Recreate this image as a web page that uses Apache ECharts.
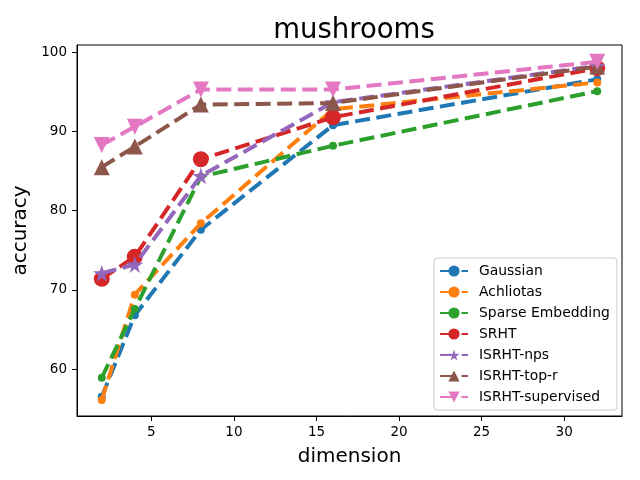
<!DOCTYPE html>
<html>
<head>
<meta charset="utf-8">
<script src="https://cdn.jsdelivr.net/npm/echarts@6/dist/echarts.min.js"></script>
<style>
  html, body { margin: 0; padding: 0; background: #fff; }
  #chart { width: 640px; height: 480px; }
</style>
</head>
<body>
<div id="chart"></div>
<script>
// dimensions on the x axis
const dims = [2, 4, 8, 16, 32]
const xTicks = [5, 10, 15, 20, 25, 30]
const yTicks = [60, 70, 80, 90, 100]

// accuracy per method
const gaussian = [56.5, 66.8, 77.6, 90.8, 96.6]
const achliotas = [56.1, 69.4, 78.4, 92.8, 96.2]
const sparseEmb = [58.9, 67.6, 84.3, 88.2, 95.1]
const srht = [71.4, 74.2, 86.5, 91.8, 98.0]
const isrhtNps = [72.1, 73.2, 84.4, 93.7, 98.3]
const isrhtTopR = [85.5, 88.1, 93.4, 93.6, 98.2]
const isrhtSup = [88.3, 90.6, 95.3, 95.3, 98.8]

const names = ['Gaussian', 'Achliotas', 'Sparse Embedding', 'SRHT', 'ISRHT-nps', 'ISRHT-top-r', 'ISRHT-supervised']
const values = [gaussian, achliotas, sparseEmb, srht, isrhtNps, isrhtTopR, isrhtSup]
const colors = ['#1f77b4', '#ff7f0e', '#2ca02c', '#d62728', '#9467bd', '#8c564b', '#e377c2']

const starPath = 'path://M50,0 L61,35 L98,35 L68,57 L79,91 L50,70 L21,91 L32,57 L2,35 L39,35 Z'
// marker per series
const marks = [
  { symbol: 'circle', size: 8, rotate: 0 },
  { symbol: 'circle', size: 8, rotate: 0 },
  { symbol: 'circle', size: 8, rotate: 0 },
  { symbol: 'circle', size: 16, rotate: 0 },
  { symbol: starPath, size: 17, rotate: 0 },
  { symbol: 'triangle', size: 16, rotate: 0 },
  { symbol: 'triangle', size: 16, rotate: 180 }
]

const font = 'DejaVu Sans'

let series = names.map((name, i) => ({
  name: name,
  type: 'line',
  data: dims.map((d, j) => [d, values[i][j]]),
  symbol: marks[i].symbol,
  symbolSize: marks[i].size,
  symbolRotate: marks[i].rotate,
  showAllSymbol: true,
  z: 2 + i,
  itemStyle: { color: colors[i], borderWidth: 0 },
  lineStyle: { width: 4, type: [15, 6.5], color: colors[i] },
  emphasis: { disabled: true }
}))

const chart = echarts.init(document.getElementById('chart'))
chart.setOption({
  animation: false,
  backgroundColor: '#fff',
  title: {
    text: 'mushrooms',
    left: 349,
    top: 12,
    textAlign: 'center',
    textStyle: { fontFamily: font, fontSize: 27.5, fontWeight: 'normal', color: '#000' }
  },
  grid: {
    left: 77,
    right: 18,
    top: 45,
    bottom: 64,
    show: true,
    borderColor: '#000',
    borderWidth: 1,
    backgroundColor: 'transparent'
  },
  legend: {
    orient: 'vertical',
    left: 434,
    top: 258,
    itemWidth: 28,
    itemHeight: 14,
    itemGap: 7,
    padding: [6, 7, 6, 5],
    backgroundColor: 'rgba(255,255,255,0.8)',
    borderColor: '#ccc',
    borderWidth: 1,
    borderRadius: 3,
    textStyle: { fontFamily: font, fontSize: 13.9, color: '#000', padding: [0, 0, 0, 6] },
    data: names
  },
  xAxis: {
    type: 'value',
    min: 0.5,
    max: 33.5,
    name: 'dimension',
    nameLocation: 'middle',
    nameGap: 31,
    nameTextStyle: { fontFamily: font, fontSize: 20, color: '#000' },
    splitLine: { show: false },
    axisLine: { show: true, onZero: false, lineStyle: { color: '#000', width: 1 } },
    axisTick: { show: true, length: 5, customValues: xTicks, lineStyle: { color: '#000' } },
    axisLabel: { customValues: xTicks, fontFamily: font, fontSize: 13.5, color: '#000', margin: 9 }
  },
  yAxis: {
    type: 'value',
    min: 54.07,
    max: 100.93,
    name: 'accuracy',
    nameLocation: 'middle',
    nameGap: 38,
    nameTextStyle: { fontFamily: font, fontSize: 20, color: '#000' },
    splitLine: { show: false },
    axisLine: { show: true, onZero: false, lineStyle: { color: '#000', width: 1 } },
    axisTick: { show: true, length: 5, customValues: yTicks, lineStyle: { color: '#000' } },
    axisLabel: { customValues: yTicks, fontFamily: font, fontSize: 13.5, color: '#000', margin: 10 }
  },
  series: series
})
</script>
</body>
</html>
